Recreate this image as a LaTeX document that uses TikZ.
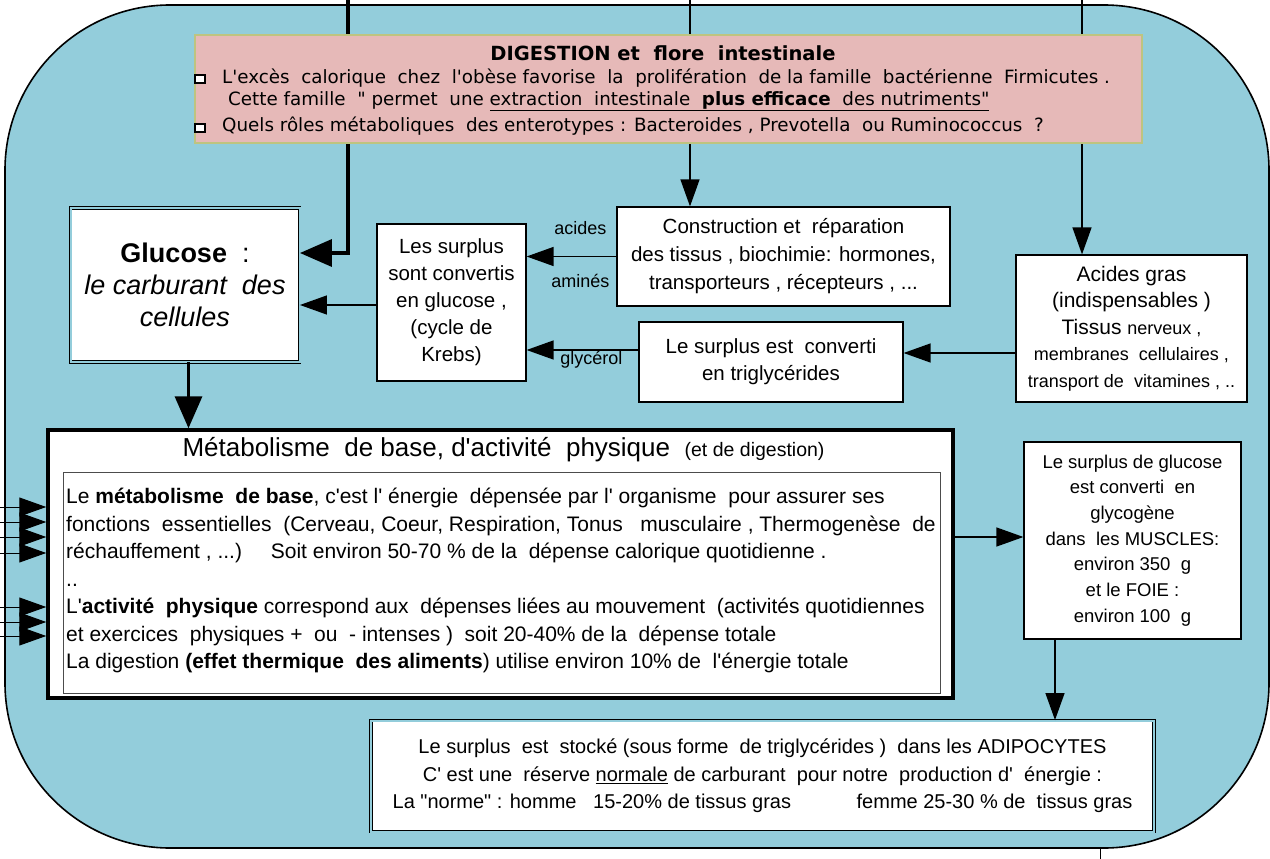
\documentclass[tikz,border=0pt]{standalone}
\usepackage{fontspec}
\setmainfont{Liberation Sans}[Ligatures=TeXOff]
\newfontfamily\headfont{DejaVu Sans}[Ligatures=TeXOff]
\usetikzlibrary{arrows.meta,positioning,calc}

\definecolor{bgblue}{RGB}{147,205,219}
\definecolor{digpink}{RGB}{230,185,184}
\definecolor{digborder}{RGB}{190,196,128}

\newcommand{\fs}[2]{\fontsize{#1}{#2}\selectfont}

\begin{document}
\begin{tikzpicture}[x=1pt, y=-1pt,
    % --- Box styles ---
    plainbox/.style={draw, fill=white, line width=1.2pt, inner sep=0pt, align=center},
    dblbox/.style={plainbox, line width=0.9pt, double=bgblue, double distance=2pt},
    roundframe/.style={fill=bgblue, draw=black, line width=1.6pt, rounded corners=165pt},
    bullet/.style={draw, fill=white, line width=2.2pt, minimum width=9.5pt, minimum height=8.5pt, inner sep=0pt},
    txt/.style={inner sep=0pt},
    lbl/.style={inner sep=0pt, font=\fs{18}{20}},
    % --- Connector styles ---
    flow/.style={line width=1.3pt, -{Triangle[length=27pt, width=19pt]}},
    mainflow/.style={line width=3.5pt, -{Triangle[length=32pt, width=27pt]}},
]
\useasboundingbox (0,0) rectangle (1270,859);

% ============================================================
% Background frame
% ============================================================
\draw[roundframe] (5,5) rectangle (1269,848);

% ============================================================
% Upper row: glucose and its sources
% ============================================================
\node[dblbox, minimum width=229pt, minimum height=154pt, font=\fs{27}{32}] (glucose) at (185,285)
  {\textbf{Glucose} \ :\\\textit{le carburant \ des}\\\textit{cellules}};

\node[plainbox, minimum width=149pt, minimum height=157pt, font=\fs{20.5}{27}] (surplus) at (451.5,302.5)
  {Les surplus\\sont convertis\\en glucose ,\\(cycle de\\Krebs)};

\node[plainbox, minimum width=333pt, minimum height=99pt, font=\fs{20.5}{28}] (constr) at (783.5,256.5)
  {Construction et \ réparation\\des tissus , biochimie: hormones,\\transporteurs , récepteurs , ...};

\node[plainbox, minimum width=264pt, minimum height=80pt, font=\fs{20.5}{27}] (trig) at (771,362)
  {Le surplus est \ converti\\en triglycérides};

\node[plainbox, minimum width=231pt, minimum height=147pt, font=\fs{21}{26.5}] (acides) at (1131.5,328.5)
  {Acides gras\\(indispensables )\\Tissus {\fs{18}{26.5}nerveux ,}\\{\fs{18}{26.5}membranes \ cellulaires ,}\\{\fs{18}{26.5}transport de \ vitamines , ..}};

% --- incoming lines from above (they pass under the digestion box) ---
\coordinate (topA) at (348,0);
\coordinate (topB) at (690,0);
\coordinate (topC) at (1082,0);
\draw[mainflow] (topA) |- ([yshift=32pt]glucose.east);
\draw[flow] (topB) -- (topB |- constr.north);
\draw[flow] (topC) -- (topC |- acides.north);

% ============================================================
% Digestion header
% ============================================================
\node[fill=digpink, draw=digborder, line width=1.5pt, minimum width=947pt, minimum height=108pt] (digestion) at (668.5,89) {};
\node[txt, font=\headfont\bfseries\fs{19.5}{22}] (digtitle) at (663,53) {DIGESTION et \ flore \ intestinale};
\node[bullet] (bul1) at (200,79) {};
\node[txt, anchor=west, font=\headfont\fs{18.3}{20}] (digl1) at (222,78)
  {L'excès \ calorique \ chez \ l'obèse favorise \ la \ prolifération \ de la famille \ bactérienne \ Firmicutes .};
\node[txt, anchor=west, font=\headfont\fs{18.3}{20}] (digl2) at (228,101)
  {Cette famille \ " permet \ une \underline{extraction \ intestinale \ \textbf{plus efficace} \ des nutriments"}};
\node[bullet] (bul2) at (200,128) {};
\node[txt, anchor=west, font=\headfont\fs{18.3}{20}] (digl3) at (222,126)
  {Quels rôles métaboliques \ des enterotypes : Bacteroides , Prevotella \ ou Ruminococcus \ ?};

% ============================================================
% Metabolism block
% ============================================================
\node[plainbox, line width=3.5pt, minimum width=905pt, minimum height=268pt] (metab) at (500.5,564) {};
\node[draw=black!70, fill=white, line width=0.8pt, minimum width=877pt, minimum height=221pt, inner sep=0pt] (metabin) at (501.5,582.5) {};
\node[txt, font=\fs{26}{28}] (metabtitle) at (503.5,450)
  {Métabolisme \ de base, d'activité \ physique \ {\fs{19.5}{28}(et de digestion)}};
\node[txt, anchor=west, align=left, font=\fs{21}{27.5}] (metabtext) at (66,580.5)
  {Le \textbf{métabolisme \ de base}, c'est l' énergie \ dépensée par l' organisme \ pour assurer ses\\
   fonctions \ essentielles \ (Cerveau, Coeur, Respiration, Tonus \ \ musculaire , Thermogenèse \ de\\
   réchauffement , ...) \quad Soit environ 50-70 \% de la \ dépense calorique quotidienne .\\
   ..\\
   L'\textbf{activité \ physique} correspond aux \ dépenses liées au mouvement \ (activités quotidiennes\\
   et exercices \ physiques + \ ou \ - intenses ) \ soit 20-40\% de la \ dépense totale\\
   La digestion \textbf{(effet thermique \ des aliments}) utilise environ 10\% de \ l'énergie totale};

\node[plainbox, minimum width=217pt, minimum height=197pt, font=\fs{18.5}{25.7}] (glyco) at (1132.5,540.5)
  {Le surplus de glucose\\est converti \ en\\glycogène\\dans \ les MUSCLES:\\environ 350 \ g\\et le FOIE :\\environ 100 \ g};

\node[dblbox, minimum width=783pt, minimum height=111pt, font=\fs{20}{27.5}] (adipo) at (762.5,776)
  {Le surplus \ est \ stocké (sous forme \ de triglycérides ) \ dans les ADIPOCYTES\\
   C' est une \ réserve \underline{normale} de carburant \ pour notre \ production d' \ énergie :\\
   La "norme" : homme \ \ 15-20\% de tissus gras \qquad\quad femme 25-30 \% de \ tissus gras};

% ============================================================
% Connectors
% ============================================================
\draw[flow] (constr.west) -- (constr.west -| surplus.east)
  node[lbl, pos=0.4, yshift=28pt] {acides}
  node[lbl, pos=0.4, yshift=-24pt] {aminés};
\draw[flow] ([yshift=12pt]trig.west) -- ([yshift=12pt]trig.west -| surplus.east)
  node[lbl, pos=0.42, yshift=-10pt] {glycérol};
\draw[flow] ([yshift=-24.5pt]acides.west) -- ([yshift=-24.5pt]acides.west -| trig.east);
\draw[flow] ([yshift=-2.5pt]surplus.west) -- ([yshift=-2.5pt]surplus.west -| glucose.east);
\draw[mainflow] ([xshift=3.5pt]glucose.south) -- ([xshift=3.5pt]glucose.south |- metab.north);
\draw[flow] ([yshift=3.5pt]glyco.west -| metab.east) -- ([yshift=3.5pt]glyco.west);
\draw[flow] ([xshift=-77.5pt]glyco.south) -- ([xshift=-77.5pt]glyco.south |- adipo.north);

% --- incoming arrows from the left ---
\foreach \yy [count=\i] in {507,522,537,553,607,622,636} {
  \coordinate (in\i) at (0,\yy);
  \draw[flow, line width=1pt] (in\i) -- (in\i -| metab.west);
}

% --- outgoing line at the bottom ---
\coordinate (outA) at (1100,848);
\coordinate (outB) at (1100,859);
\draw[line width=1pt] (outA) -- (outB);

\end{tikzpicture}
\end{document}
